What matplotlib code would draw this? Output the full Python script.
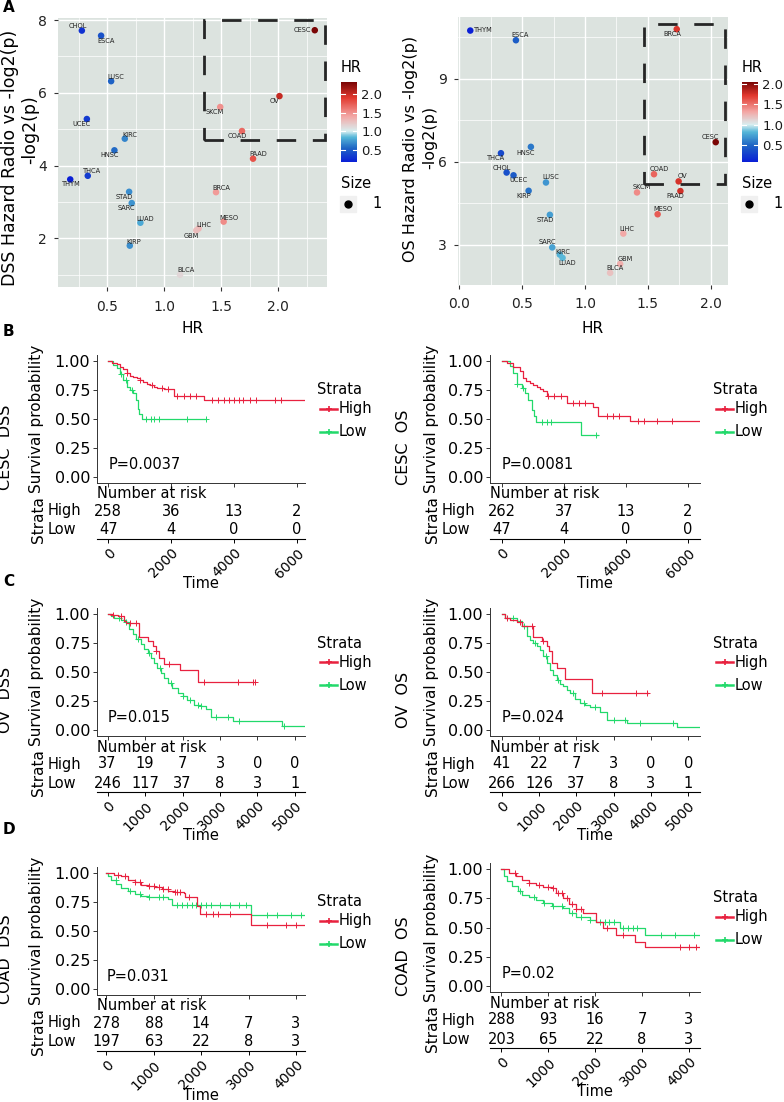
import bisect
import matplotlib
matplotlib.use("Agg")
import matplotlib.pyplot as plt
from matplotlib.colors import LinearSegmentedColormap
from matplotlib.patches import Rectangle
from matplotlib.lines import Line2D
from matplotlib.ticker import MultipleLocator
from matplotlib.transforms import blended_transform_factory

# ---------------- panel A data ----------------
dss_cancers = ["CHOL", "ESCA", "LUSC", "UCEC", "KIRC", "HNSC", "THCA", "THYM", "STAD", "SARC", "LUAD",
               "KIRP", "BLCA", "LIHC", "GBM", "MESO", "BRCA", "PAAD", "COAD", "SKCM", "OV", "CESC"]
dss_hr = [0.275, 0.444, 0.532, 0.319, 0.652, 0.561, 0.327, 0.173, 0.690, 0.713, 0.789,
          0.696, 1.137, 1.30, 1.28, 1.52, 1.453, 1.778, 1.681, 1.49, 2.01, 2.32]
dss_log2p = [7.71, 7.57, 6.32, 5.28, 4.74, 4.42, 3.72, 3.62, 3.28, 2.97, 2.43,
             1.80, 1.00, 2.27, 2.22, 2.46, 3.27, 4.19, 4.95, 5.61, 5.91, 7.72]

os_cancers = ["THYM", "ESCA", "HNSC", "THCA", "CHOL", "UCEC", "LUSC", "KIRP", "STAD", "SARC", "KIRC",
              "LUAD", "BLCA", "GBM", "LIHC", "SKCM", "MESO", "COAD", "OV", "PAAD", "BRCA", "CESC"]
os_hr = [0.088, 0.451, 0.570, 0.332, 0.377, 0.432, 0.690, 0.552, 0.721, 0.74, 0.80,
         0.822, 1.20, 1.28, 1.305, 1.414, 1.578, 1.549, 1.745, 1.759, 1.73, 2.04]
os_log2p = [10.75, 10.40, 6.54, 6.31, 5.61, 5.51, 5.25, 4.95, 4.08, 2.90, 2.64,
            2.52, 1.98, 2.30, 3.40, 4.89, 4.10, 5.55, 5.29, 4.94, 10.80, 6.71]

# ---------------- Kaplan-Meier data (time, survival) ----------------
cesc_dss_high = [(0, 1.0), (120, 0.985), (270, 0.97), (370, 0.95), (480, 0.93), (580, 0.90), (690, 0.875),
                 (800, 0.86), (900, 0.85), (1000, 0.835), (1120, 0.82), (1230, 0.80), (1330, 0.79),
                 (1440, 0.78), (1550, 0.77), (1760, 0.76), (2080, 0.695), (3040, 0.667), (6300, 0.667)]
cesc_dss_low = [(0, 1.0), (150, 0.963), (270, 0.94), (370, 0.89), (480, 0.84), (590, 0.775), (690, 0.75),
                (800, 0.72), (890, 0.66), (930, 0.59), (990, 0.546), (1070, 0.50), (3115, 0.50)]
cesc_dss_high_cens = [600, 1000, 1400, 1700, 1900, 2200, 2400, 2600, 2800, 3300, 3500, 3700, 3850,
                      4000, 4150, 4300, 4500, 4700, 5300, 5500]
cesc_dss_low_cens = [400, 550, 750, 1200, 1350, 1450, 1600, 2500, 3100]

cesc_os_high = [(0, 1.0), (160, 0.98), (380, 0.95), (590, 0.91), (700, 0.85), (800, 0.83), (910, 0.81),
                (1020, 0.795), (1130, 0.78), (1240, 0.76), (1340, 0.74), (1450, 0.70), (2100, 0.64),
                (2960, 0.60), (3120, 0.53), (4140, 0.487), (6400, 0.487)]
cesc_os_low = [(0, 1.0), (270, 0.956), (380, 0.90), (480, 0.80), (650, 0.77), (750, 0.725), (860, 0.667),
               (970, 0.58), (1040, 0.527), (1100, 0.478), (2560, 0.362), (3120, 0.362)]
cesc_os_high_cens = [1500, 1700, 1900, 2300, 2500, 2700, 3400, 3600, 3800, 4400, 4600, 5000, 5500]
cesc_os_low_cens = [500, 700, 1300, 1450, 1600, 3050]

ov_dss_high = [(0, 1.0), (130, 0.99), (270, 0.985), (440, 0.94), (490, 0.92), (845, 0.80), (1070, 0.764),
               (1200, 0.72), (1290, 0.68), (1375, 0.62), (1510, 0.565), (1935, 0.516), (2415, 0.41),
               (3935, 0.41)]
ov_dss_low = [(0, 1.0), (90, 0.98), (180, 0.962), (355, 0.95), (490, 0.927), (580, 0.87), (665, 0.826),
              (755, 0.788), (890, 0.739), (975, 0.70), (1065, 0.667), (1155, 0.623), (1245, 0.58),
              (1330, 0.536), (1420, 0.493), (1510, 0.449), (1600, 0.406), (1730, 0.362), (1865, 0.319),
              (2000, 0.29), (2130, 0.261), (2310, 0.217), (2490, 0.203), (2620, 0.18), (2755, 0.11),
              (3355, 0.081), (4660, 0.035), (5285, 0.035)]
ov_dss_high_cens = [150, 350, 600, 750, 1300, 1650, 2560, 3480, 3880, 3930]
ov_dss_low_cens = [300, 500, 800, 1100, 1400, 1700, 2000, 2200, 2400, 2500, 2900, 3200, 3500, 4700]

ov_os_high = [(0, 1.0), (90, 0.965), (220, 0.95), (400, 0.93), (535, 0.90), (830, 0.80), (1070, 0.764),
              (1205, 0.72), (1280, 0.677), (1355, 0.576), (1475, 0.533), (1700, 0.44), (2410, 0.317),
              (3930, 0.317)]
ov_os_low = [(0, 1.0), (90, 0.965), (400, 0.937), (535, 0.893), (670, 0.807), (760, 0.78), (850, 0.75),
             (940, 0.72), (1030, 0.69), (1115, 0.64), (1205, 0.58), (1295, 0.519), (1385, 0.475),
             (1475, 0.432), (1560, 0.40), (1650, 0.375), (1740, 0.345), (1830, 0.317), (1960, 0.27),
             (2100, 0.23), (2230, 0.215), (2365, 0.20), (2635, 0.159), (2810, 0.086), (3350, 0.063),
             (4690, 0.029), (5310, 0.029)]
ov_os_high_cens = [150, 500, 800, 1100, 2700, 3600, 3900]
ov_os_low_cens = [300, 600, 900, 1200, 1500, 1900, 2200, 2500, 3000, 3300, 3700, 4600]

coad_dss_high = [(0, 1.0), (170, 0.986), (315, 0.97), (455, 0.943), (600, 0.92), (740, 0.90), (880, 0.885),
                 (1025, 0.88), (1170, 0.862), (1310, 0.842), (1450, 0.833), (1630, 0.828), (1665, 0.793),
                 (1915, 0.713), (1985, 0.65), (3050, 0.555), (4190, 0.555)]
coad_dss_low = [(0, 1.0), (30, 0.97), (100, 0.943), (205, 0.908), (315, 0.87), (455, 0.842), (600, 0.82),
                (740, 0.805), (880, 0.793), (1025, 0.79), (1310, 0.776), (1380, 0.727), (3050, 0.64),
                (4190, 0.64)]
coad_dss_high_cens = [250, 400, 600, 700, 900, 1000, 1100, 1200, 1300, 1450, 1500, 1550, 1750, 2100,
                      2250, 2350, 2600, 3400, 3800, 4000]
coad_dss_low_cens = [200, 500, 700, 900, 1100, 1200, 1500, 1600, 1700, 1800, 1900, 2000, 2100, 2200,
                     2400, 2600, 2800, 2950, 3400, 3600, 3900, 4100]

coad_os_high = [(0, 1.0), (165, 0.966), (305, 0.937), (450, 0.908), (595, 0.88), (735, 0.865), (880, 0.845),
                (1090, 0.837), (1165, 0.794), (1305, 0.75), (1450, 0.70), (1590, 0.656), (1735, 0.622),
                (2020, 0.55), (2165, 0.493), (2450, 0.436), (2840, 0.378), (3055, 0.33), (4235, 0.33)]
coad_os_low = [(0, 1.0), (55, 0.937), (130, 0.894), (235, 0.857), (345, 0.808), (450, 0.78), (595, 0.76),
               (735, 0.736), (880, 0.708), (1090, 0.688), (1305, 0.67), (1450, 0.62), (1590, 0.593),
               (1880, 0.564), (2020, 0.55), (2520, 0.50), (3055, 0.436), (4235, 0.436)]
coad_os_high_cens = [300, 600, 800, 1000, 1100, 1200, 1300, 1400, 1500, 1600, 1700, 2250, 2600, 3800,
                     4000, 4150]
coad_os_low_cens = [400, 700, 900, 1100, 1300, 1500, 1700, 1900, 2100, 2200, 2300, 2400, 2600, 2700,
                    2800, 2900, 3400, 3700, 4100]

# number at risk tables
cesc_risk_times = [0, 2000, 4000, 6000]
cesc_dss_risk_high = [258, 36, 13, 2]
cesc_dss_risk_low = [47, 4, 0, 0]
cesc_os_risk_high = [262, 37, 13, 2]
cesc_os_risk_low = [47, 4, 0, 0]
ov_risk_times = [0, 1000, 2000, 3000, 4000, 5000]
ov_dss_risk_high = [37, 19, 7, 3, 0, 0]
ov_dss_risk_low = [246, 117, 37, 8, 3, 1]
ov_os_risk_high = [41, 22, 7, 3, 0, 0]
ov_os_risk_low = [266, 126, 37, 8, 3, 1]
coad_risk_times = [0, 1000, 2000, 3000, 4000]
coad_dss_risk_high = [278, 88, 14, 7, 3]
coad_dss_risk_low = [197, 63, 22, 8, 3]
coad_os_risk_high = [288, 93, 16, 7, 3]
coad_os_risk_low = [203, 65, 22, 8, 3]

RED = "#E8213F"
GREEN = "#22D96B"

W, H = 784, 1102
fig = plt.figure(figsize=(W / 100, H / 100), dpi=100)


def add_ax(l, t, r, b):
    return fig.add_axes([l / W, 1 - b / H, (r - l) / W, (b - t) / H])


def ftext(x, y, s, **kw):
    kw.setdefault("ha", "left")
    kw.setdefault("va", "center")
    return fig.text(x / W, 1 - y / H, s, **kw)


def hr_cmap(vmin, vmax):
    mid = (1.0 - vmin) / (vmax - vmin)
    stops = [(0, "#0a1fd6"), (mid * 0.45, "#1f66c4"), (mid * 0.8, "#55b6d8"), (mid, "#d8eef0"),
             (mid + (1 - mid) * 0.3, "#f3a7a5"), (mid + (1 - mid) * 0.68, "#e2392f"), (1, "#7a0505")]
    return LinearSegmentedColormap.from_list("hr", stops)


# label offsets in pixels (dx, dy-down)
dss_offs = {"CHOL": (-4, -5), "ESCA": (5, 5), "LUSC": (5, -4), "UCEC": (-5, 5), "KIRC": (5, -4),
            "HNSC": (-5, 5), "THCA": (4, -5), "THYM": (1, 5), "STAD": (-5, 5), "SARC": (-5, 5),
            "LUAD": (5, -4), "KIRP": (4, -4), "BLCA": (6, -5), "LIHC": (5, -4), "GBM": (-5, 6),
            "MESO": (5, -4), "BRCA": (5, -4), "PAAD": (5, -5), "COAD": (-5, 5), "SKCM": (-5, 5),
            "OV": (-5, 5), "CESC": (-12, 0)}
os_offs = {"THYM": (13, -1), "ESCA": (4, -5), "HNSC": (-5, 6), "THCA": (-5, 5), "CHOL": (-5, -5),
           "UCEC": (5, 5), "LUSC": (5, -5), "KIRP": (-5, 5), "STAD": (-5, 5), "SARC": (-5, -5),
           "KIRC": (3, -3), "LUAD": (5, 5), "BLCA": (5, -5), "GBM": (5, -5), "LIHC": (4, -5),
           "SKCM": (5, -5), "MESO": (5, -5), "COAD": (5, -5), "OV": (4, -5), "PAAD": (-5, 5),
           "BRCA": (-4, 5), "CESC": (-5, -5)}


def scatter_panel(rect, names, hr, lp, offs, box, ymaj, ylab1, ylab2, ylab_size, ylab_x, ylab_y, cb_x):
    ax = add_ax(*rect)
    vmin, vmax = min(hr), max(hr)
    sc = ax.scatter(hr, lp, c=hr, cmap=hr_cmap(vmin, vmax), vmin=vmin, vmax=vmax, s=22, lw=0, zorder=3)
    for n, x, y in zip(names, hr, lp):
        dx, dy = offs[n]
        ax.annotate(n, (x, y), xytext=(dx * 0.72, -dy * 0.72), textcoords="offset points",
                    ha="center", va="center", fontsize=4.8, color="#222222", zorder=4)
    xs, ys = vmax - vmin, max(lp) - min(lp)
    ax.set_xlim(vmin - 0.05 * xs, vmax + 0.05 * xs)
    ax.set_ylim(min(lp) - 0.05 * ys, max(lp) + 0.05 * ys)
    ax.set_facecolor("#dce3df")
    ax.xaxis.set_major_locator(MultipleLocator(0.5))
    ax.xaxis.set_minor_locator(MultipleLocator(0.25))
    ax.yaxis.set_major_locator(MultipleLocator(ymaj))
    ax.yaxis.set_minor_locator(MultipleLocator(ymaj / 2))
    ax.grid(which="major", color="white", lw=1.0)
    ax.grid(which="minor", color="white", lw=0.5)
    ax.set_axisbelow(True)
    for s in ax.spines.values():
        s.set_visible(False)
    ax.tick_params(which="major", length=3, color="#333333", labelsize=10, labelcolor="#222222")
    ax.tick_params(axis="y", pad=5)
    ax.tick_params(axis="x", pad=6)
    ax.tick_params(which="minor", length=0)
    bx0, bx1, by0, by1 = box
    ax.add_patch(Rectangle((bx0, by0), bx1 - bx0, by1 - by0, fill=False, ec="#262626", lw=2,
                           ls=(0, (7, 6)), zorder=5, clip_on=False))
    cx = (rect[0] + rect[2]) / 2
    ftext(cx, 329, "HR", ha="center", fontsize=11)
    ftext(ylab_x, ylab_y[0], ylab1, rotation=90, ha="center", fontsize=ylab_size)
    ftext(ylab_x + 20, ylab_y[1], ylab2, rotation=90, ha="center", fontsize=ylab_size)
    # colourbar
    cax = add_ax(cb_x, 82, cb_x + 16, 162)
    cb = fig.colorbar(sc, cax=cax, ticks=[0.5, 1.0, 1.5, 2.0])
    cb.outline.set_visible(False)
    cax.tick_params(length=0, labelsize=9.5, pad=3, labelcolor="#1a1a1a")
    for v in [0.5, 1.0, 1.5, 2.0]:
        cax.plot([0, 0.22], [v, v], color="white", lw=0.8)
        cax.plot([0.78, 1], [v, v], color="white", lw=0.8)
    ftext(cb_x, 68, "HR", fontsize=10.5)
    ftext(cb_x, 183, "Size", fontsize=10.5)
    fig.add_artist(Rectangle(((cb_x - 1) / W, 1 - 212 / H), 16 / W, 16 / H, color="#f0f0f0",
                             transform=fig.transFigure))
    fig.add_artist(Line2D([(cb_x + 7) / W], [1 - 204 / H], marker="o", ms=5, color="black",
                          transform=fig.transFigure))
    ftext(cb_x + 31, 204, "1", fontsize=10.5)


scatter_panel((58, 18, 327, 287), dss_cancers, dss_hr, dss_log2p, dss_offs, (1.348, 2.41, 4.69, 8.0), 2,
              "DSS Hazard Radio vs -log2(p)", "-log2(p)", 12.5, 10, (158, 130), 341)
scatter_panel((458, 17, 728, 285), os_cancers, os_hr, os_log2p, os_offs, (1.47, 2.11, 5.19, 10.99), 3,
              "OS Hazard Radio vs -log2(p)", "-log2(p)", 11.5, 410, (149, 137), 742)

ftext(3, 8, "A", fontsize=11, fontweight="bold")
ftext(3, 332, "B", fontsize=11, fontweight="bold")
ftext(3, 581, "C", fontsize=11, fontweight="bold")
ftext(3, 830, "D", fontsize=11, fontweight="bold")

SIDES = {
    "left": dict(spine=97, right=305, side_x=6, surv_x=37, row_x=48, leg_x=317),
    "right": dict(spine=490, right=700, side_x=404, surv_x=432, row_x=442, leg_x=713),
}


def km_panel(side, s1, s0, xlim, title, high, low, high_c, low_c, rt, rh, rl, pval):
    L = SIDES[side]
    u = s0 - s1
    ax = add_ax(L["spine"], s1 - 0.05 * u, L["right"], s0 + 0.05 * u)
    for curve, cens, col in ((low, low_c, GREEN), (high, high_c, RED)):
        t, s = zip(*curve)
        ax.step(t, s, where="post", color=col, lw=0.9)
        sc = [s[bisect.bisect_right(t, c) - 1] for c in cens]
        ax.plot(cens, sc, ls="none", marker="+", ms=4, mew=0.7, color=col)
    ax.set_xlim(*xlim)
    ax.set_ylim(-0.05, 1.05)
    ax.set_yticks([0, 0.25, 0.5, 0.75, 1.0])
    ax.set_yticklabels(["0.00", "0.25", "0.50", "0.75", "1.00"])
    ax.set_xticks(rt)
    ax.set_xticklabels([])
    for k in ("top", "right"):
        ax.spines[k].set_visible(False)
    for k in ("left", "bottom"):
        ax.spines[k].set_linewidth(0.7)
        ax.spines[k].set_color("#333333")
    ax.tick_params(length=3, width=0.7, color="#333333", labelsize=11.5, pad=2)
    ax.text(0, 0.11, pval, fontsize=10.5, ha="left", va="center")

    ftext(L["side_x"], s0 - 30, title, rotation=90, ha="center", fontsize=11.5)
    ftext(L["surv_x"], (s1 + s0) / 2, "Survival probability", rotation=90, ha="center", fontsize=11)

    # legend
    ftext(L["leg_x"], s1 + 29, "Strata", fontsize=10.5)
    for i, (lab, col) in enumerate((("High", RED), ("Low", GREEN))):
        y = 1 - (s1 + 48 + 23 * i) / H
        x0 = (L["leg_x"] + 3) / W
        x1 = (L["leg_x"] + 20) / W
        fig.add_artist(Line2D([x0, x1], [y, y], color=col, lw=1.8, transform=fig.transFigure))
        fig.add_artist(Line2D([(x0 + x1) / 2], [y], marker="+", ms=5, mew=1.2, color=col,
                              transform=fig.transFigure))
        ftext(L["leg_x"] + 22, s1 + 48 + 23 * i, lab, fontsize=10.5)

    # risk table
    tab = add_ax(L["spine"], s0 + 8, L["right"], s0 + 62)
    tab.set_xlim(*xlim)
    tab.set_yticks([])
    for k in ("top", "right", "left"):
        tab.spines[k].set_visible(False)
    tab.spines["bottom"].set_linewidth(0.8)
    tab.set_xticks(rt)
    tab.set_xticklabels([str(v) for v in rt], rotation=45, ha="right", va="top",
                        rotation_mode="anchor", fontsize=10)
    tab.tick_params(length=3, width=0.7, pad=2)
    tab.patch.set_alpha(0)
    tr = blended_transform_factory(ax.transData, fig.transFigure)
    ftext(L["spine"], s0 + 17, "Number at risk", fontsize=10.5)
    for row, (lab, vals) in enumerate((("High", rh), ("Low", rl))):
        ypx = s0 + 34 + 19 * row
        ftext(L["row_x"], ypx, lab, fontsize=10.5)
        for tv, n in zip(rt, vals):
            fig.text(tv, 1 - ypx / H, str(n), transform=tr, ha="center", va="center", fontsize=10.5)
    ftext(L["surv_x"] + 1, s0 + 43, "Strata", rotation=90, ha="center", fontsize=11)
    ftext((L["spine"] + L["right"]) / 2, s0 + 106, "Time", ha="center", fontsize=10.5)


km_panel("left", 361, 477, (-360, 6264), "CESC  DSS", cesc_dss_high, cesc_dss_low,
         cesc_dss_high_cens, cesc_dss_low_cens, cesc_risk_times, cesc_dss_risk_high,
         cesc_dss_risk_low, "P=0.0037")
km_panel("right", 361, 477, (-377, 6397), "CESC  OS", cesc_os_high, cesc_os_low,
         cesc_os_high_cens, cesc_os_low_cens, cesc_risk_times, cesc_os_risk_high,
         cesc_os_risk_low, "P=0.0081")
km_panel("left", 614, 730, (-284, 5268), "OV  DSS", ov_dss_high, ov_dss_low,
         ov_dss_high_cens, ov_dss_low_cens, ov_risk_times, ov_dss_risk_high,
         ov_dss_risk_low, "P=0.015")
km_panel("right", 614, 730, (-313, 5313), "OV  OS", ov_os_high, ov_os_low,
         ov_os_high_cens, ov_os_low_cens, ov_risk_times, ov_os_risk_high,
         ov_os_risk_low, "P=0.024")
km_panel("left", 873, 989, (-199, 4192), "COAD  DSS", coad_dss_high, coad_dss_low,
         coad_dss_high_cens, coad_dss_low_cens, coad_risk_times, coad_dss_risk_high,
         coad_dss_risk_low, "P=0.031")
km_panel("right", 869, 986, (-242, 4235), "COAD  OS", coad_os_high, coad_os_low,
         coad_os_high_cens, coad_os_low_cens, coad_risk_times, coad_os_risk_high,
         coad_os_risk_low, "P=0.02")

fig.savefig("out.png", dpi=100)
